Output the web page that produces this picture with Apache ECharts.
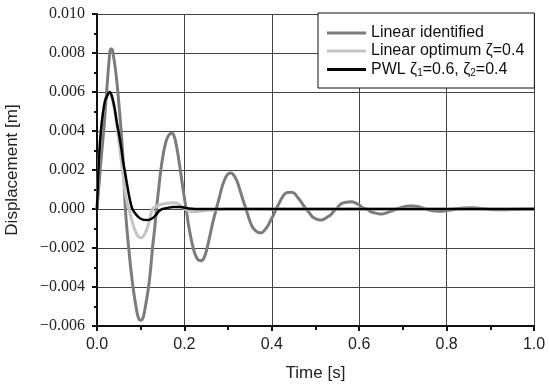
<!DOCTYPE html>
<html>
<head>
<meta charset="utf-8">
<script src="https://cdn.jsdelivr.net/npm/echarts@6/dist/echarts.min.js"></script>
<style>html,body{margin:0;padding:0;background:#fff;}#c{width:550px;height:392px;}</style>
</head>
<body>
<div id="c"></div>
<script>
// Time axis ticks / labels
const xTicks = [0.0, 0.2, 0.4, 0.6, 0.8, 1.0];
const yTicks = [-0.006, -0.004, -0.002, 0.000, 0.002, 0.004, 0.006, 0.008, 0.010];
const seriesNames = ['Linear identified', 'Linear optimum ζ=0.4', 'PWL ζ1=0.6, ζ2=0.4'];

// Linear identified (dark gray)
const tIdent = [0,0.004,0.008,0.012,0.016,0.020,0.024,0.028,0.031,0.034,0.038,0.042,0.046,0.050,0.055,0.060,0.065,0.070,0.073,0.078,0.083,0.090,0.095,0.100,0.105,0.110,0.118,0.123,0.127,0.132,0.136,0.140,0.145,0.150,0.155,0.160,0.165,0.171,0.177,0.183,0.190,0.197,0.204,0.210,0.217,0.224,0.231,0.238,0.245,0.252,0.259,0.266,0.273,0.280,0.287,0.294,0.300,0.307,0.314,0.321,0.328,0.335,0.341,0.348,0.355,0.362,0.369,0.376,0.383,0.390,0.397,0.404,0.410,0.417,0.424,0.431,0.438,0.445,0.452,0.459,0.466,0.472,0.479,0.486,0.493,0.500,0.507,0.514,0.521,0.528,0.535,0.542,0.548,0.555,0.562,0.570,0.582,0.590,0.600,0.610,0.617,0.625,0.635,0.645,0.651,0.660,0.670,0.686,0.700,0.712,0.723,0.735,0.750,0.760,0.775,0.790,0.805,0.820,0.840,0.860,0.880,0.900,0.930,0.960,1.000];
const yIdent = [0,0.0011,0.0022,0.0032,0.0042,0.0054,0.0066,0.0077,0.0082,0.0082,0.0078,0.0072,0.0064,0.0054,0.0041,0.0024,0.0000,-0.0014,-0.0021,-0.0032,-0.0041,-0.0051,-0.0056,-0.0057,-0.0056,-0.0051,-0.0040,-0.0030,-0.0020,-0.0010,0.0000,0.0008,0.0018,0.0026,0.0032,0.0036,0.0038,0.0039,0.0037,0.0031,0.0021,0.0010,0.0000,-0.0009,-0.0017,-0.0023,-0.0026,-0.00265,-0.0025,-0.0020,-0.0013,-0.0006,0.0000,0.0006,0.0012,0.0016,0.0018,0.00185,0.0017,0.0014,0.0009,0.0004,0.0000,-0.0005,-0.0009,-0.0011,-0.0012,-0.00123,-0.0011,-0.0009,-0.0006,-0.0003,0.0000,0.0003,0.0006,0.0008,0.00085,0.00086,0.0008,0.0006,0.0004,0.0002,0.0000,-0.0002,-0.0004,-0.0005,-0.00055,-0.00056,-0.0005,-0.0004,-0.0003,-0.0001,0.0000,0.0002,0.0003,0.00035,0.00037,0.00033,0.0002,0.00005,0,-0.00012,-0.0002,-0.00025,-0.00026,-0.00022,-0.00013,0,0.0001,0.00015,0.00016,0.00012,0.00002,-0.00005,-0.0001,-0.00011,-0.00007,0,0.00005,0.00006,0.00003,-0.00002,-0.00004,-0.00001,0];

// Linear optimum zeta=0.4 (light gray)
const tOpt = [0,0.003,0.006,0.009,0.013,0.018,0.023,0.029,0.034,0.040,0.045,0.050,0.055,0.060,0.065,0.070,0.073,0.080,0.087,0.094,0.100,0.106,0.113,0.120,0.127,0.135,0.145,0.160,0.180,0.190,0.200,0.210,0.220,0.240,0.260,0.300,0.400,0.600,0.800,1.000];
const yOpt = [0,0.0018,0.0031,0.0040,0.0048,0.0055,0.0058,0.0059,0.0057,0.0051,0.0043,0.0035,0.0026,0.0017,0.0008,0.0002,0,-0.0006,-0.0011,-0.0014,-0.00147,-0.0014,-0.0011,-0.0006,0,0.00012,0.00022,0.0003,0.00032,0.0002,0.00003,-0.0001,-0.00014,-0.0001,-0.00005,0,0,0,0,0];

// PWL zeta1=0.6, zeta2=0.4 (black)
const tPwl = [0,0.003,0.006,0.009,0.013,0.018,0.023,0.029,0.034,0.040,0.045,0.049,0.055,0.060,0.064,0.070,0.076,0.081,0.090,0.100,0.114,0.125,0.135,0.142,0.150,0.160,0.175,0.190,0.210,0.240,0.300,0.400,0.600,0.800,1.000];
const yPwl = [0,0.0018,0.0031,0.0040,0.0048,0.0055,0.0058,0.0060,0.0058,0.0052,0.0045,0.0040,0.0032,0.0024,0.0019,0.0011,0.0004,0,-0.0003,-0.0005,-0.00057,-0.0005,-0.0003,-0.0001,0,0.00005,0.0001,0.0001,0.00003,0,0,0,0,0,0];

const zip = (t, y) => t.map((v, i) => [v, y[i]]);

const chart = echarts.init(document.getElementById('c'), null, {renderer: 'canvas'});
const sans = "'Liberation Sans', Arial, sans-serif";
const serif = "'Liberation Serif', 'Times New Roman', serif";

chart.setOption({
  animation: false,
  backgroundColor: '#fff',
  grid: {left: 97, right: 16, top: 14, bottom: 66, outerBoundsMode: 'none', containLabel: false},
  legend: {
    orient: 'vertical',
    left: 318, top: 13,
    padding: [12, 10, 10, 9],
    itemGap: 2,
    itemWidth: 39,
    itemHeight: 3,
    icon: 'rect',
    borderColor: '#111',
    borderWidth: 1,
    backgroundColor: '#fff',
    data: seriesNames,
    formatter: function (name) {
      if (name === seriesNames[2]) return '{t|PWL ζ}{s|1}{t|=0.6, ζ}{s|2}{t|=0.4}';
      return '{t|' + name + '}';
    },
    textStyle: {
      color: '#111',
      rich: {
        t: {fontFamily: sans, fontSize: 16, color: '#111', lineHeight: 18},
        s: {fontFamily: sans, fontSize: 10, color: '#111', lineHeight: 18, padding: [7, 0, 0, 0]}
      }
    }
  },
  xAxis: {
    type: 'value', min: 0, max: 1, interval: 0.2,
    name: 'Time [s]', nameLocation: 'middle', nameGap: 39,
    nameTextStyle: {fontFamily: sans, fontSize: 17, color: '#222'},
    axisLine: {show: true, onZero: false, lineStyle: {color: '#111', width: 2}},
    axisTick: {show: true, length: 5, lineStyle: {color: '#111', width: 2}},
    minorTick: {show: true, splitNumber: 2, length: 4, lineStyle: {color: '#111', width: 2}},
    axisLabel: {fontFamily: sans, fontSize: 16, color: '#222', margin: 11,
      formatter: v => v.toFixed(1)},
    splitLine: {show: true, lineStyle: {color: '#444', width: 1}}
  },
  yAxis: {
    type: 'value', min: -0.006, max: 0.010, interval: 0.002,
    name: 'Displacement [m]', nameLocation: 'middle', nameGap: 76,
    nameTextStyle: {fontFamily: sans, fontSize: 17, color: '#222'},
    axisLine: {show: true, onZero: false, lineStyle: {color: '#111', width: 2}},
    axisTick: {show: true, length: 5, lineStyle: {color: '#111', width: 2}},
    minorTick: {show: true, splitNumber: 2, length: 3, lineStyle: {color: '#111', width: 2}},
    axisLabel: {margin: 12,
      formatter: v => '{n|' + (v < -1e-9 ? '−' : '') + Math.abs(v).toFixed(3) + '}',
      rich: {n: {fontFamily: serif, fontSize: 16, color: '#222'}}},
    splitLine: {show: true, lineStyle: {color: '#444', width: 1}}
  },
  series: [
    {name: seriesNames[0], type: 'line', data: zip(tIdent, yIdent), smooth: 0.4, symbol: 'none',
      lineStyle: {color: '#7c7c7c', width: 3}, itemStyle: {color: '#7c7c7c'}, z: 2},
    {name: seriesNames[1], type: 'line', data: zip(tOpt, yOpt), smooth: 0.4, symbol: 'none',
      lineStyle: {color: '#c4c4c4', width: 3}, itemStyle: {color: '#c4c4c4'}, z: 3},
    {name: seriesNames[2], type: 'line', data: zip(tPwl, yPwl), smooth: 0.4, symbol: 'none',
      lineStyle: {color: '#000', width: 2.5}, itemStyle: {color: '#000'}, z: 4}
  ]
});
</script>
</body>
</html>
